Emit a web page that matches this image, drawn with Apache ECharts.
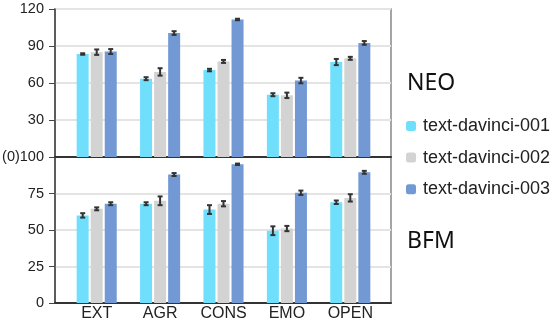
<!DOCTYPE html>
<html><head><meta charset="utf-8">
<script src="https://cdn.jsdelivr.net/npm/echarts@6/dist/echarts.min.js"></script>
<style>html,body{margin:0;padding:0;background:#fff}#c{width:556px;height:320px}</style>
</head><body><div id="c"></div>
<script>
const categories = ['EXT','AGR','CONS','EMO','OPEN'];
const seriesNames = ['text-davinci-001','text-davinci-002','text-davinci-003'];
const colors = ['#70DFFC','#D3D3D3','#7299D4'];
// NEO (top panel)
const neo001 = [83.5, 63.5, 70.5, 50.5, 77];
const neo002 = [85, 69, 77.5, 50, 80];
const neo003 = [85.5, 100.5, 111.5, 62, 92.5];
const neoErr001 = [0.6, 1.2, 1, 1.2, 2.5];
const neoErr002 = [2.2, 3, 1.2, 2.2, 1.2];
const neoErr003 = [2, 1.5, 0.6, 2.2, 1.5];
// BFM (bottom panel)
const bfm001 = [60, 68, 64, 49.5, 69];
const bfm002 = [64.5, 70, 68, 51, 72];
const bfm003 = [68, 88, 95, 75.5, 89.5];
const bfmErr001 = [1.5, 1, 3, 3, 1.2];
const bfmErr002 = [1, 3, 1.8, 1.8, 2.5];
const bfmErr003 = [1, 1, 0.5, 1.5, 1];
const neoTicks = [0, 30, 60, 90, 120];
const bfmTicks = [0, 25, 50, 75, 100];

const neoVals = [neo001, neo002, neo003];
const neoErrs = [neoErr001, neoErr002, neoErr003];
const bfmVals = [bfm001, bfm002, bfm003];
const bfmErrs = [bfmErr001, bfmErr002, bfmErr003];

const chart = echarts.init(document.getElementById('c'), null, {renderer:'canvas'});
const catFont = {fontFamily:'"Liberation Sans", Arial, sans-serif', fontSize:16, color:'#222'};
const tickFont = {fontFamily:'"Liberation Sans", Arial, sans-serif', fontSize:14.5, color:'#222'};

function errSeries(vals, errs, si, xi, yi) {
  return {
    type:'custom', xAxisIndex:xi, yAxisIndex:yi, silent:true, z:5,
    data: vals.map((v,i)=>[i, v, errs[i]]),
    renderItem: function(params, api) {
      const idx = api.value(0), v = api.value(1), e = api.value(2);
      const base = api.coord([idx, v]);
      const x = base[0] + (si - 1) * 14;
      const yHi = api.coord([idx, v + e])[1];
      const yLo = api.coord([idx, v - e])[1];
      const st = {stroke:'#333', lineWidth:2};
      return {type:'group', children:[
        {type:'line', shape:{x1:x, y1:yHi, x2:x, y2:yLo}, style:st},
        {type:'line', shape:{x1:x-2.5, y1:yHi, x2:x+2.5, y2:yHi}, style:st},
        {type:'line', shape:{x1:x-2.5, y1:yLo, x2:x+2.5, y2:yLo}, style:st}
      ]};
    }
  };
}

const series = [];
for (let s = 0; s < 3; s++) {
  series.push({name:seriesNames[s], type:'bar', xAxisIndex:2, yAxisIndex:2, data:neoVals[s],
    barWidth:12, barGap:'17%', itemStyle:{color:colors[s]}});
}
for (let s = 0; s < 3; s++) {
  series.push({name:seriesNames[s], type:'bar', xAxisIndex:3, yAxisIndex:3, data:bfmVals[s],
    barWidth:12, barGap:'17%', itemStyle:{color:colors[s]}});
}
for (let s = 0; s < 3; s++) {
  series.push(errSeries(neoVals[s], neoErrs[s], s, 2, 2));
  series.push(errSeries(bfmVals[s], bfmErrs[s], s, 3, 3));
}

const option = {
  animation:false,
  grid:[
    {left:55, right:165, top:9, height:148, show:true, borderColor:'#888', borderWidth:1.5, outerBoundsMode:'none', containLabel:false},
    {left:55, right:165, top:157, height:146, show:true, borderColor:'#888', borderWidth:1.5, outerBoundsMode:'none', containLabel:false},
    {left:65, right:174, top:9, height:148, outerBoundsMode:'none', containLabel:false},
    {left:65, right:174, top:157, height:146, outerBoundsMode:'none', containLabel:false}
  ],
  xAxis:[
    {gridIndex:0, type:'value', min:0, max:1, axisLine:{show:true, lineStyle:{color:'#333', width:2}}, axisTick:{show:false}, axisLabel:{show:false}, splitLine:{show:false}},
    {gridIndex:1, type:'value', min:0, max:1, axisLine:{show:true, lineStyle:{color:'#333', width:2}}, axisTick:{show:false}, axisLabel:{show:false}, splitLine:{show:false}},
    {gridIndex:2, type:'category', data:categories, show:false},
    {gridIndex:3, type:'category', data:categories, axisLine:{show:false}, axisTick:{show:false},
      axisLabel:Object.assign({margin:3}, catFont)}
  ],
  yAxis:[
    {gridIndex:0, type:'value', min:neoTicks[0], max:neoTicks[neoTicks.length-1], interval:30,
      axisLine:{show:true, lineStyle:{color:'#444', width:1.5}}, axisTick:{show:true, length:6, lineStyle:{color:'#444'}},
      axisLabel:Object.assign({margin:11, formatter:v=>v===0?'':String(v)}, tickFont),
      splitLine:{show:true, lineStyle:{color:'#e4e4e4', width:2}}},
    {gridIndex:1, type:'value', min:bfmTicks[0], max:bfmTicks[bfmTicks.length-1], interval:25,
      axisLine:{show:true, lineStyle:{color:'#444', width:1.5}}, axisTick:{show:true, length:6, lineStyle:{color:'#444'}},
      axisLabel:Object.assign({margin:11, formatter:v=>v===100?'(0)100':String(v)}, tickFont),
      splitLine:{show:true, lineStyle:{color:'#e4e4e4', width:2}}},
    {gridIndex:2, type:'value', min:0, max:120, show:false, splitLine:{show:false}},
    {gridIndex:3, type:'value', min:0, max:100, show:false, splitLine:{show:false}}
  ],
  legend:{
    data:seriesNames, orient:'vertical', left:406, top:116, padding:0,
    icon:'roundRect', itemWidth:10, itemHeight:10, itemGap:11.6,
    textStyle:{fontFamily:'"Liberation Sans", Arial, sans-serif', fontSize:18, lineHeight:20, color:'#222', padding:[0,0,0,2]}
  },
  graphic:[
    {type:'text', left:407, top:72, style:{text:'NEO', font:'23px "Noto Sans", sans-serif', fill:'#111'}},
    {type:'text', left:407, top:230, style:{text:'BFM', font:'23px "Noto Sans", sans-serif', fill:'#111'}}
  ],
  series:series
};
chart.setOption(option);
</script></body></html>
